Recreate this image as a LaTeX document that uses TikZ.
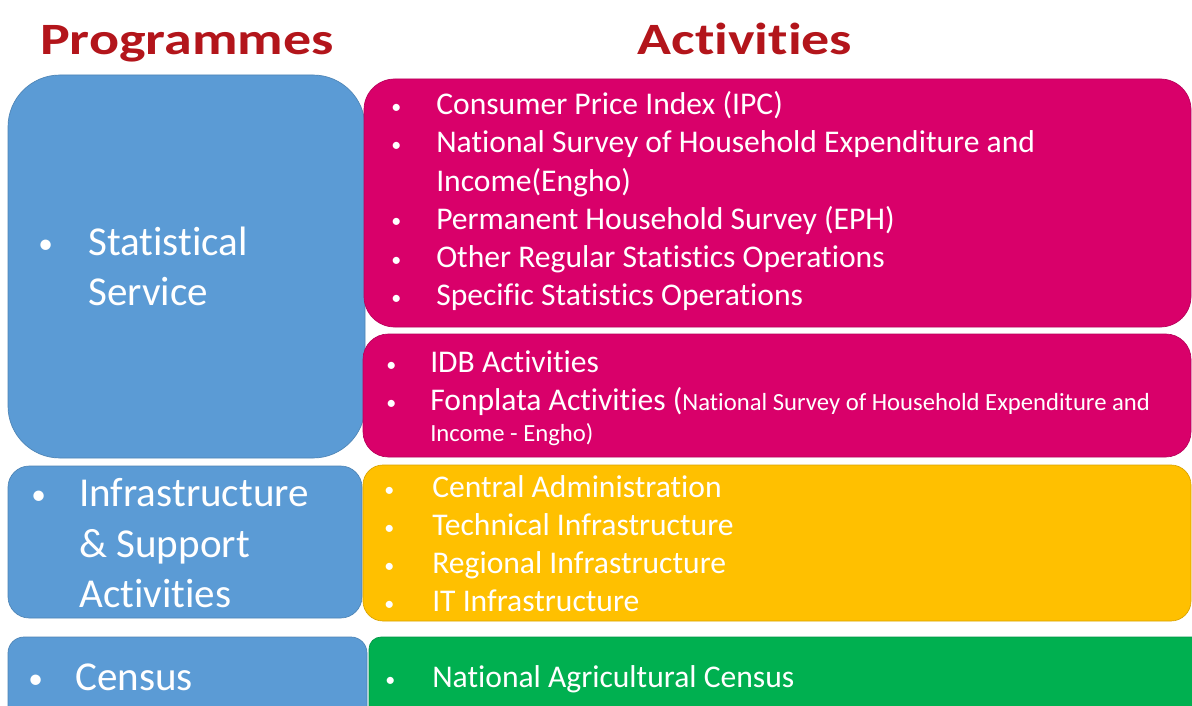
\documentclass[tikz,border=0pt]{standalone}
\usepackage{graphicx}
\usepackage{fontspec}
\setmainfont{Carlito}[RawFeature={-liga}]
\definecolor{pblue}{HTML}{5B9BD5}
\definecolor{pmag}{HTML}{D9006A}
\definecolor{pyel}{HTML}{FFC000}
\definecolor{pgrn}{HTML}{00B050}
\definecolor{ptitle}{HTML}{B3151B}
\begin{document}
\begin{tikzpicture}[x=0.75pt,y=-0.75pt,
  box/.style={anchor=north west, inner sep=0, outer sep=0, fill=#1, draw=#1!85!black, line width=0.5pt},
  ttl/.style={anchor=base, inner sep=0, text=ptitle, font=\bfseries\fontsize{42}{50}\selectfont},
  prog/.style={anchor=base west, inner sep=0, text=white, font=\fontsize{30.8}{37}\selectfont},
  pbul/.style={anchor=base west, inner sep=0, text=white, font=\fontsize{22}{26}\selectfont},
  act/.style={anchor=base west, inner sep=0, text=white, font=\fontsize{23.7}{28}\selectfont},
  small/.style={anchor=base west, inner sep=0, text=white, font=\fontsize{18.5}{22}\selectfont},
  bul/.style={anchor=base west, inner sep=0, text=white, font=\fontsize{15}{18}\selectfont}]
\clip (0,0) rectangle (1192,706);
\fill[white] (0,0) rectangle (1192,706);

% titles
\node[ttl] (tprog) at (187,55) {\scalebox{1}[0.8]{Programmes}};
\node[ttl] (tact) at (745,55) {\scalebox{1}[0.8]{Activities}};

% boxes
\node[box=pblue, rounded corners=39pt, minimum width=267.75pt, minimum height=287.25pt] (bss) at (8,75) {};
\node[box=pmag, rounded corners=23pt, minimum width=620.25pt, minimum height=186pt] (m1) at (364,79) {};
\node[box=pmag, rounded corners=19pt, minimum width=621pt, minimum height=92.25pt] (m2) at (363,334) {};
\node[box=pblue, rounded corners=16pt, minimum width=265.5pt, minimum height=114pt] (binf) at (8,466) {};
\node[box=pyel, rounded corners=15pt, minimum width=621pt, minimum height=117pt] (yel) at (363,465) {};
\node[box=pblue, rounded corners=12pt, minimum width=269.25pt, minimum height=75pt] (bcen) at (8,637) {};
\node[box=pgrn, rounded corners=9pt, minimum width=630pt, minimum height=75pt] (grn) at (369,637) {};

% programme texts
\node[pbul] (pb1) at (38,253) {•};
\node[prog] (p1a) at (88,255) {Statistical};
\node[prog] (p1b) at (88,305) {Service};
\node[pbul] (pb2) at (31,504) {•};
\node[prog] (p2a) at (79,506) {Infrastructure};
\node[prog] (p2b) at (79,557) {\& Support};
\node[prog] (p2c) at (79,607) {Activities};
\node[pbul] (pb3) at (28,688) {•};
\node[prog] (p3a) at (75,690) {Census};

% magenta 1
\node[bul] (mb1) at (391,114) {•};
\node[act] (ma1) at (436,115) {Consumer Price Index (IPC)};
\node[bul] (mb2) at (391,152) {•};
\node[act] (ma2) at (436,153) {National Survey of Household Expenditure and};
\node[act] (ma2b) at (436,191) {Income(Engho)};
\node[bul] (mb3) at (391,228) {•};
\node[act] (ma3) at (436,229) {Permanent Household Survey (EPH)};
\node[bul] (mb4) at (391,266) {•};
\node[act] (ma4) at (436,267) {Other Regular Statistics Operations};
\node[bul] (mb5) at (391,304) {•};
\node[act] (ma5) at (436,305) {Specific Statistics Operations};

% magenta 2
\node[bul] (nb1) at (386,371) {•};
\node[act] (na1) at (430,372) {IDB Activities};
\node[bul] (nb2) at (386,409) {•};
\node[act] (na2) at (430,410) {Fonplata Activities (\fontsize{18.5}{22}\selectfont National Survey of Household Expenditure and};
\node[small] (na2b) at (430,441) {Income - Engho)};

% yellow
\node[bul] (yb1) at (384,496) {•};
\node[act] (ya1) at (432,497) {Central Administration};
\node[bul] (yb2) at (384,534) {•};
\node[act] (ya2) at (432,535) {Technical Infrastructure};
\node[bul] (yb3) at (384,572) {•};
\node[act] (ya3) at (432,573) {Regional Infrastructure};
\node[bul] (yb4) at (384,610) {•};
\node[act] (ya4) at (432,611) {IT Infrastructure};

% green
\node[bul] (gb1) at (385,686) {•};
\node[act] (ga1) at (432,687) {National Agricultural Census};
\end{tikzpicture}
\end{document}
